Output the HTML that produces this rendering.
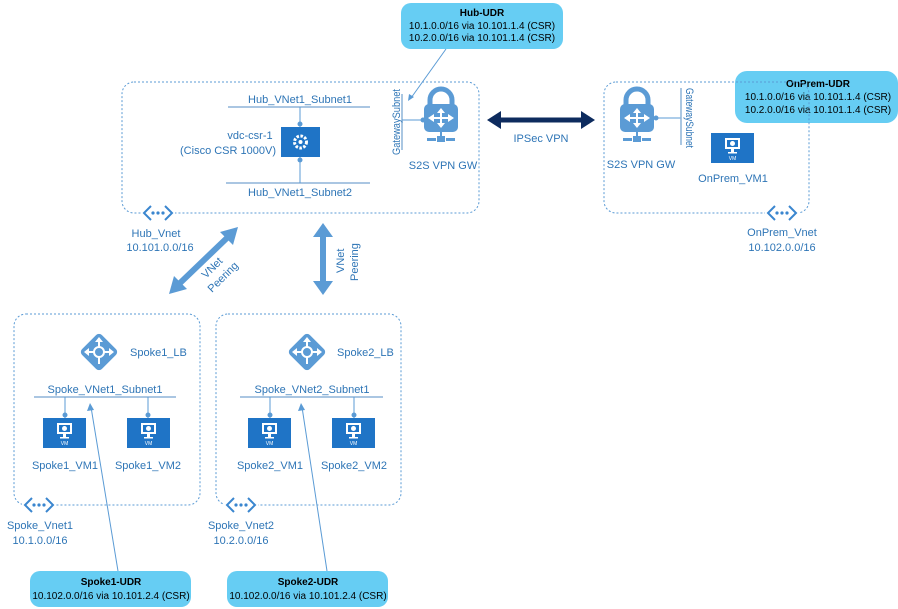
<!DOCTYPE html>
<html><head><meta charset="utf-8"><style>
html,body{margin:0;padding:0;background:#fff;}
svg{display:block;font-family:"Liberation Sans",sans-serif;}
.t{fill:#2e75b6;font-size:11px;}
.k{fill:#000;font-size:10px;}
.b{font-weight:bold;}
.box{fill:none;stroke:#5b9bd5;stroke-width:1;stroke-dasharray:2,2;}
.udr{fill:#66cdf3;}
.ln{stroke:#8eb4d8;stroke-width:1.5;}
</style></head><body>
<svg width="898" height="609" viewBox="0 0 898 609" xmlns="http://www.w3.org/2000/svg">
<defs>
<g id="vm">
 <rect x="0" y="0" width="43" height="30" fill="#1f74c6"/>
 <rect x="14" y="5" width="15" height="11" fill="#fff"/>
 <rect x="16" y="7" width="11" height="7" fill="#1f74c6"/>
 <circle cx="21.5" cy="10.5" r="2.5" fill="#fff"/>
 <rect x="20" y="16" width="3" height="3" fill="#fff"/>
 <rect x="17" y="19" width="9" height="1.5" fill="#fff"/>
 <text x="21.5" y="27" font-size="5" fill="#fff" text-anchor="middle">VM</text>
</g>
<g id="vnet">
 <rect x="-2" y="-6" width="34" height="12" fill="#fff"/>
 <path d="M8,-7 L1,0 L8,7 M22,-7 L29,0 L22,7" fill="none" stroke="#3a86cf" stroke-width="2"/>
 <circle cx="10" cy="0" r="1.6" fill="#3a86cf"/><circle cx="15" cy="0" r="1.6" fill="#3a86cf"/><circle cx="20" cy="0" r="1.6" fill="#3a86cf"/>
</g>
<g id="lb">
 <rect x="-14" y="-14" width="28" height="28" rx="4" transform="rotate(45)" fill="#5b9bd5"/>
 <circle cx="0" cy="0" r="5" fill="none" stroke="#fff" stroke-width="2"/>
 <path d="M0,-5 V-12 M-5,0 H-12 M5,0 H12 M0,5 V12" stroke="#fff" stroke-width="2"/>
 <path d="M0,-15 L-4,-10 H4 Z M-15,0 L-10,-4 V4 Z M15,0 L10,-4 V4 Z" fill="#fff"/>
</g>
<g id="gw">
 <path d="M6,16 V10 A11,11 0 0 1 28,10 V16" fill="none" stroke="#5b9bd5" stroke-width="5"/>
 <rect x="0" y="14" width="34" height="28" rx="5" fill="#5b9bd5"/>
 <path d="M17,18 L13,23 H21 Z M17,38 L13,33 H21 Z M4,28 L10,24 V32 Z M30,28 L24,24 V32 Z" fill="#fff"/>
 <rect x="16" y="22" width="2" height="12" fill="#fff"/>
 <rect x="9" y="27" width="16" height="2" fill="#fff"/>
 <rect x="16" y="42" width="2" height="6" fill="#5b9bd5"/>
 <rect x="3" y="48" width="9" height="3" fill="#5b9bd5"/><rect x="13" y="46" width="8" height="6" fill="#5b9bd5"/><rect x="22" y="48" width="9" height="3" fill="#5b9bd5"/>
</g>
</defs>

<!-- Hub UDR -->
<rect class="udr" x="401" y="3" width="162" height="46" rx="10"/>
<text class="k b" x="482" y="16" text-anchor="middle">Hub-UDR</text>
<text class="k" x="482" y="29" text-anchor="middle">10.1.0.0/16 via 10.101.1.4 (CSR)</text>
<text class="k" x="482" y="41" text-anchor="middle">10.2.0.0/16 via 10.101.1.4 (CSR)</text>
<line x1="446" y1="49" x2="411" y2="98" stroke="#5b9bd5" stroke-width="1"/>
<path d="M408,101 L409,94 L414,97 Z" fill="#5b9bd5"/>

<!-- Hub box -->
<rect class="box" x="122" y="82" width="357" height="131" rx="12"/>
<line class="ln" x1="228" y1="107" x2="370" y2="107"/>
<text class="t" x="300" y="103" text-anchor="middle">Hub_VNet1_Subnet1</text>
<line class="ln" x1="226" y1="183" x2="370" y2="183"/>
<text class="t" x="300" y="196" text-anchor="middle">Hub_VNet1_Subnet2</text>
<line x1="300" y1="107" x2="300" y2="183" stroke="#5b9bd5" stroke-width="1"/>
<circle cx="300" cy="124" r="2.5" fill="#5b9bd5"/><circle cx="300" cy="160" r="2.5" fill="#5b9bd5"/>
<rect x="281" y="127" width="39" height="30" fill="#1f74c6"/>
<circle cx="300.5" cy="142" r="6" fill="none" stroke="#fff" stroke-width="3" stroke-dasharray="2.5,1.5"/>
<circle cx="300.5" cy="142" r="2" fill="#fff"/>
<text class="t" x="250" y="139" text-anchor="middle" font-size="12">vdc-csr-1</text>
<text class="t" x="276" y="154" text-anchor="end" font-size="12">(Cisco CSR 1000V)</text>
<line class="ln" x1="402" y1="94" x2="402" y2="150"/>
<text class="t" font-size="10" textLength="66" lengthAdjust="spacingAndGlyphs" transform="translate(400,155) rotate(-90)">GatewaySubnet</text>
<line x1="402" y1="120" x2="423" y2="120" stroke="#5b9bd5"/><circle cx="423" cy="120" r="2.5" fill="#5b9bd5"/>
<use href="#gw" x="424" y="90"/>
<text class="t" x="443" y="169" text-anchor="middle" font-size="12">S2S VPN GW</text>
<use href="#vnet" x="143" y="213"/>
<text class="t" x="156" y="237" text-anchor="middle" font-size="12">Hub_Vnet</text>
<text class="t" x="160" y="251" text-anchor="middle" font-size="12">10.101.0.0/16</text>

<!-- IPSec -->
<line x1="500" y1="120" x2="582" y2="120" stroke="#0d2b5e" stroke-width="5"/>
<path d="M487,120 L501,111 V129 Z M595,120 L581,111 V129 Z" fill="#0d2b5e"/>
<text class="t" x="541" y="142" text-anchor="middle" font-size="11">IPSec VPN</text>

<!-- OnPrem box -->
<use href="#gw" x="620" y="90"/>
<line x1="654" y1="118" x2="681" y2="118" stroke="#5b9bd5"/><circle cx="656" cy="118" r="2.5" fill="#5b9bd5"/>
<line class="ln" x1="681" y1="88" x2="681" y2="145"/>
<text class="t" font-size="10" textLength="60" lengthAdjust="spacingAndGlyphs" transform="translate(686,88) rotate(90)">GatewaySubnet</text>
<text class="t" x="641" y="168" text-anchor="middle" font-size="12">S2S VPN GW</text>
<use href="#vm" x="711" y="133"/>
<text class="t" x="733" y="182" text-anchor="middle" font-size="12">OnPrem_VM1</text>
<rect class="udr" x="735" y="71" width="163" height="52" rx="12"/>
<text class="k b" x="818" y="87" text-anchor="middle">OnPrem-UDR</text>
<text class="k" x="818" y="100" text-anchor="middle">10.1.0.0/16 via 10.101.1.4 (CSR)</text>
<text class="k" x="818" y="113" text-anchor="middle">10.2.0.0/16 via 10.101.1.4 (CSR)</text>
<rect class="box" x="604" y="82" width="205" height="131" rx="12"/>
<use href="#vnet" x="767" y="213"/>
<text class="t" x="782" y="236" text-anchor="middle" font-size="12">OnPrem_Vnet</text>
<text class="t" x="782" y="251" text-anchor="middle" font-size="12">10.102.0.0/16</text>

<!-- Peering arrows -->
<line x1="228" y1="237" x2="179" y2="284" stroke="#5b9bd5" stroke-width="6"/>
<path d="M238,227 L220,232 L233,245 Z M169,294 L174,276 L187,289 Z" fill="#5b9bd5"/>
<text class="t" font-size="11" transform="translate(206,279) rotate(-45)">VNet</text>
<text class="t" font-size="11" transform="translate(212,293) rotate(-45)">Peering</text>
<line x1="323" y1="236" x2="323" y2="282" stroke="#5b9bd5" stroke-width="6"/>
<path d="M323,223 L313,237 H333 Z M323,295 L313,281 H333 Z" fill="#5b9bd5"/>
<text class="t" font-size="11" transform="translate(344,273) rotate(-90)">VNet</text>
<text class="t" font-size="11" transform="translate(358,281) rotate(-90)">Peering</text>

<!-- Spoke1 -->
<rect class="box" x="14" y="314" width="186" height="191" rx="12"/>
<use href="#lb" x="99" y="352"/>
<text class="t" x="130" y="356" font-size="12">Spoke1_LB</text>
<line class="ln" x1="34" y1="397" x2="176" y2="397"/>
<text class="t" x="105" y="393" text-anchor="middle" font-size="11">Spoke_VNet1_Subnet1</text>
<line x1="65" y1="397" x2="65" y2="418" stroke="#5b9bd5"/><circle cx="65" cy="415" r="2.5" fill="#5b9bd5"/>
<line x1="148" y1="397" x2="148" y2="418" stroke="#5b9bd5"/><circle cx="148" cy="415" r="2.5" fill="#5b9bd5"/>
<use href="#vm" x="43" y="418"/><use href="#vm" x="127" y="418"/>
<text class="t" x="65" y="469" text-anchor="middle" font-size="12">Spoke1_VM1</text>
<text class="t" x="148" y="469" text-anchor="middle" font-size="12">Spoke1_VM2</text>
<use href="#vnet" x="24" y="505"/>
<text class="t" x="40" y="529" text-anchor="middle" font-size="12">Spoke_Vnet1</text>
<text class="t" x="40" y="544" text-anchor="middle" font-size="12">10.1.0.0/16</text>

<!-- Spoke2 -->
<rect class="box" x="216" y="314" width="185" height="191" rx="12"/>
<use href="#lb" x="307" y="352"/>
<text class="t" x="337" y="356" font-size="12">Spoke2_LB</text>
<line class="ln" x1="240" y1="397" x2="383" y2="397"/>
<text class="t" x="312" y="393" text-anchor="middle" font-size="11">Spoke_VNet2_Subnet1</text>
<line x1="270" y1="397" x2="270" y2="418" stroke="#5b9bd5"/><circle cx="270" cy="415" r="2.5" fill="#5b9bd5"/>
<line x1="354" y1="397" x2="354" y2="418" stroke="#5b9bd5"/><circle cx="354" cy="415" r="2.5" fill="#5b9bd5"/>
<use href="#vm" x="248" y="418"/><use href="#vm" x="332" y="418"/>
<text class="t" x="270" y="469" text-anchor="middle" font-size="12">Spoke2_VM1</text>
<text class="t" x="354" y="469" text-anchor="middle" font-size="12">Spoke2_VM2</text>
<use href="#vnet" x="226" y="505"/>
<text class="t" x="241" y="529" text-anchor="middle" font-size="12">Spoke_Vnet2</text>
<text class="t" x="241" y="544" text-anchor="middle" font-size="12">10.2.0.0/16</text>

<!-- Spoke UDRs -->
<line x1="118" y1="571" x2="91" y2="407" stroke="#5b9bd5"/>
<path d="M90,403 L87,411 L94,410 Z" fill="#5b9bd5"/>
<line x1="327" y1="571" x2="302" y2="407" stroke="#5b9bd5"/>
<path d="M301,403 L298,411 L305,410 Z" fill="#5b9bd5"/>
<rect class="udr" x="30" y="571" width="161" height="36" rx="10"/>
<text class="k b" x="111" y="585" text-anchor="middle">Spoke1-UDR</text>
<text class="k" x="111" y="599" text-anchor="middle">10.102.0.0/16 via 10.101.2.4 (CSR)</text>
<rect class="udr" x="227" y="571" width="161" height="36" rx="10"/>
<text class="k b" x="308" y="585" text-anchor="middle">Spoke2-UDR</text>
<text class="k" x="308" y="599" text-anchor="middle">10.102.0.0/16 via 10.101.2.4 (CSR)</text>
</svg>
</body></html>
